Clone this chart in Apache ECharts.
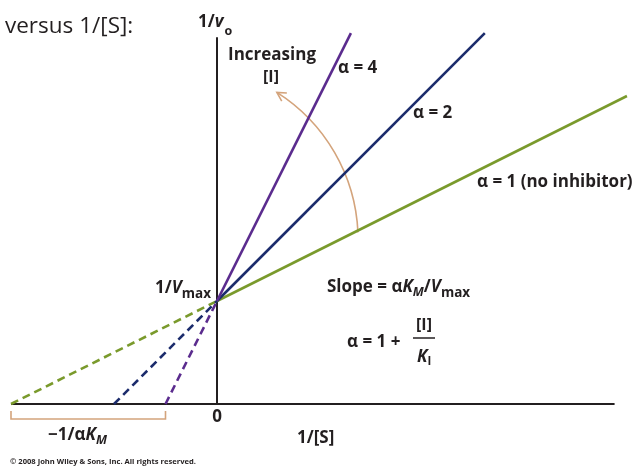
<!DOCTYPE html>
<html><head><meta charset="utf-8">
<script src="https://cdn.jsdelivr.net/npm/echarts@6/dist/echarts.min.js"></script>
<style>html,body{margin:0;padding:0;background:#fff}#c{width:635px;height:466px}</style>
</head><body><div id="c"></div>
<script>
// ---- data (Lineweaver–Burk, competitive inhibition) ----
const xRange = [-2, 4];             // 1/[S]
const yRange = [0, 3.7];            // 1/v0
const xAxisLine = [[-2, 0], [3.86, 0]];
const yAxisLine = [[0, 0], [0, 3.56]];
const greenSolid  = [[0, 1], [3.98, 2.99]];
const greenDashed = [[-2, 0], [0, 1]];
const blueSolid   = [[0, 1], [2.6, 3.6]];
const blueDashed  = [[-1, 0], [0, 1]];
const purpleSolid = [[0, 1], [1.3, 3.6]];
const purpleDashed= [[-0.5, 0], [0, 1]];
const lineLabels  = ['α = 4', 'α = 2', 'α = 1 (no inhibitor)'];
const bracketX    = [-2, -0.5];     // −1/αKM range
const arcCenter   = [-0.33, 1.59];
const arcRadius   = 1.70;

const GREEN = '#7a9a2c', BLUE = '#1c2c6c', PURPLE = '#5b2c8e', TAN = '#d4a47c', INK = '#231f20';
const FF = '"Open Sans", "DejaVu Sans", sans-serif';
const F = (s, w, st) => `${st || 'normal'} ${w || 'bold'} ${s}px ${FF}`;

const chart = echarts.init(document.getElementById('c'));
function ln(data, color, dashed, width) {
  return { type: 'line', data, symbol: 'none', clip: false, silent: true,
    lineStyle: { color, width: width || 2.6, type: dashed ? [8, 5] : 'solid' }, z: 3 };
}
chart.setOption({
  animation: false,
  grid: { left: 11, right: 6, top: 22.9, bottom: 62 },
  xAxis: { type: 'value', min: xRange[0], max: xRange[1], show: false },
  yAxis: { type: 'value', min: yRange[0], max: yRange[1], show: false },
  series: [
    ln(xAxisLine, INK, false, 2), ln(yAxisLine, INK, false, 2),
    ln(greenDashed, GREEN, true), ln(blueDashed, BLUE, true), ln(purpleDashed, PURPLE, true),
    ln(greenSolid, GREEN), ln(blueSolid, BLUE), ln(purpleSolid, PURPLE)
  ]
});

// annotations
const c = chart.convertToPixel({ gridIndex: 0 }, arcCenter);
const c2 = chart.convertToPixel({ gridIndex: 0 }, [arcCenter[0] + arcRadius, arcCenter[1]]);
const r = c2[0] - c[0];
const a0 = -1.005, a1 = -0.045;
const tip = [c[0] + r * Math.cos(a0), c[1] + r * Math.sin(a0)];
const dir = [Math.sin(a0), -Math.cos(a0)];
function rot(v, ang) { return [v[0] * Math.cos(ang) - v[1] * Math.sin(ang), v[0] * Math.sin(ang) + v[1] * Math.cos(ang)]; }
const back = [-dir[0], -dir[1]];
const w1 = rot(back, 0.5), w2 = rot(back, -0.5), L = 10;
const b0 = chart.convertToPixel({ gridIndex: 0 }, [bracketX[0], 0]);
const b1 = chart.convertToPixel({ gridIndex: 0 }, [bracketX[1], 0]);
const origin = chart.convertToPixel({ gridIndex: 0 }, [0, 0]);

const ctx = document.createElement('canvas').getContext('2d');
function T(text, x, y, font, align) {
  return { type: 'text', x, y, z: 10, style: { text, font, fill: INK, textAlign: align || 'left', textVerticalAlign: 'middle' } };
}
// sequential run of text pieces: [text, font, dy, gapAfter]
function run(x, y, segs) {
  const out = [];
  segs.forEach(s => {
    out.push(T(s[0], x, y + (s[2] || 0), s[1]));
    ctx.font = s[1];
    x += ctx.measureText(s[0]).width + (s[3] || 0);
  });
  return out;
}
const M = 17, S = 12.5;
const els = [
  { type: 'arc', shape: { cx: c[0], cy: c[1], r, startAngle: a0, endAngle: a1, clockwise: true },
    style: { stroke: TAN, lineWidth: 1.6, fill: null }, z: 2 },
  { type: 'polyline', shape: { points: [[tip[0] + w1[0] * L, tip[1] + w1[1] * L], tip, [tip[0] + w2[0] * L, tip[1] + w2[1] * L]] },
    style: { stroke: TAN, lineWidth: 1.6, fill: null }, z: 2 },
  { type: 'polyline', shape: { points: [[b0[0], b0[1] + 7], [b0[0], b0[1] + 15], [b1[0], b1[1] + 15], [b1[0], b1[1] + 7]] },
    style: { stroke: TAN, lineWidth: 1.6, fill: null } },
  T('versus 1/[S]:', 5, 27, F(22.5, 'normal')),
  ...run(198, 22, [['1/', F(M)], ['v', F(M, 'bold', 'italic'), 0, 1], ['o', F(S), 9]]),
  T('Increasing', 228, 55, F(M)), T('[I]', 271, 77, F(M - 1), 'center'),
  T(lineLabels[0], 338, 68, F(M)), T(lineLabels[1], 413, 113, F(M)), T(lineLabels[2], 477, 182, F(M)),
  ...run(155, 288, [['1/', F(M)], ['V', F(M, 'bold', 'italic')], ['max', F(S + 1), 6]]),
  ...run(327, 287, [['Slope = α', F(M)], ['K', F(M, 'bold', 'italic')], ['M', F(S, 'bold', 'italic'), 5],
                    ['/', F(M)], ['V', F(M, 'bold', 'italic')], ['max', F(S + 1), 6]]),
  T('α = 1 +', 347, 342, F(M)), T('[I]', 424, 325, F(M - 1), 'center'),
  { type: 'line', shape: { x1: 413, y1: 338, x2: 435, y2: 338 }, style: { stroke: INK, lineWidth: 1.5 } },
  ...run(417, 357, [['K', F(M, 'bold', 'italic')], ['I', F(S - 1), 5]]),
  T('0', origin[0], 417, F(M), 'center'),
  T('1/[S]', 297, 438, F(M)),
  ...run(48, 435, [['\u22121/α', F(M)], ['K', F(M, 'bold', 'italic')], ['M', F(S, 'bold', 'italic'), 5]]),
  T('© 2008 John Wiley & Sons, Inc. All rights reserved.', 10, 462, F(7.6))
];
chart.setOption({ graphic: { elements: els } });
</script></body></html>
